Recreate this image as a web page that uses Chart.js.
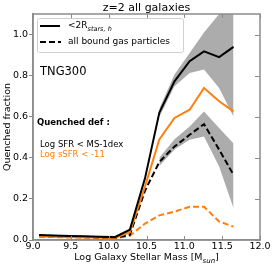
<!DOCTYPE html>
<html>
<head>
<meta charset="utf-8">
<script src="https://cdn.jsdelivr.net/npm/chart.js@4"></script>
<style>
  html, body { margin: 0; padding: 0; background: #fff; }
  #wrap { width: 274px; height: 267px; }
</style>
</head>
<body>
<div id="wrap"><canvas id="chart"></canvas></div>
<script>
// Values
const mass = [9.08, 9.28, 9.48, 9.68, 9.88, 10.08, 10.28, 10.48, 10.67, 10.87, 11.07, 11.26, 11.46, 11.65];
const sfrInner = [0.024, 0.022, 0.020, 0.018, 0.016, 0.014, 0.05, 0.30, 0.62, 0.772, 0.87, 0.918, 0.89, 0.94];
const ssfrInner = [0.018, 0.016, 0.015, 0.013, 0.012, 0.010, 0.038, 0.26, 0.49, 0.594, 0.634, 0.74, 0.675, 0.626];
const sfrAll = [0.02, 0.018, 0.016, 0.014, 0.012, 0.010, 0.025, 0.24, 0.38, 0.455, 0.512, 0.564, 0.44, 0.317];
const ssfrAll = [0.015, 0.014, 0.012, 0.011, 0.010, 0.008, 0.02, 0.08, 0.12, 0.138, 0.162, 0.162, 0.09, 0.065];

// error bands (only the high-mass bins)
const bandMass = [10.67, 10.87, 11.07, 11.26, 11.46, 11.65];
const innerHi = [0.64, 0.805, 0.91, 1.01, 1.10, 1.30];
const innerLo = [0.60, 0.748, 0.813, 0.83, 0.74, 0.60];
const allHi = [0.40, 0.49, 0.553, 0.626, 0.545, 0.47];
const allLo = [0.36, 0.44, 0.488, 0.504, 0.358, 0.155];

const xTicks = [9.0, 9.5, 10.0, 10.5, 11.0, 11.5, 12.0];
const yTicks = [0.0, 0.2, 0.4, 0.6, 0.8, 1.0];

const orange = '#ff7f0e';
const bandGray = 'rgb(172,172,172)';
const frameGray = '#8c8c8c';
const FONT = '"DejaVu Sans", sans-serif';

const pts = (xs, ys) => xs.map((x, i) => ({ x: x, y: ys[i] }));

function lineSet(data, color, dashed) {
    return {
        data: data,
        borderColor: color,
        borderWidth: 2,
        borderDash: dashed ? [6, 3] : [],
        pointRadius: 0,
        fill: false,
        tension: 0,
        order: 1
    };
}

function bandSet(data, filled) {
    return {
        data: data,
        borderWidth: 0,
        borderColor: 'rgba(0,0,0,0)',
        backgroundColor: bandGray,
        pointRadius: 0,
        fill: filled ? '+1' : false,
        tension: 0,
        order: 10
    };
}

// text, frame and inward ticks on top of the chart
const decorations = {
    id: 'decorations',
    afterDraw(chart) {
        const ctx = chart.ctx;
        const a = chart.chartArea;
        const xs = chart.scales.x, ys = chart.scales.y;
        ctx.save();

        // frame
        ctx.strokeStyle = frameGray;
        ctx.lineWidth = 1.5;
        ctx.strokeRect(a.left, a.top, a.right - a.left, a.bottom - a.top);

        // inward ticks: top, bottom, right
        ctx.lineWidth = 1;
        ctx.beginPath();
        xTicks.forEach(v => {
            const px = Math.round(xs.getPixelForValue(v)) + 0.5;
            ctx.moveTo(px, a.top); ctx.lineTo(px, a.top + 4);
            ctx.moveTo(px, a.bottom); ctx.lineTo(px, a.bottom - 4);
        });
        yTicks.forEach(v => {
            const py = Math.round(ys.getPixelForValue(v)) + 0.5;
            ctx.moveTo(a.right, py); ctx.lineTo(a.right - 5, py);
        });
        ctx.stroke();

        ctx.fillStyle = '#000';
        ctx.textBaseline = 'middle';

        // title
        ctx.font = '11px ' + FONT;
        ctx.textAlign = 'center';
        ctx.fillText('z=2 all galaxies', (a.left + a.right) / 2, 8);

        // x axis title with subscript
        ctx.textAlign = 'left';
        const big = '9.5px ' + FONT, small = 'italic 7px ' + FONT;
        ctx.font = big;
        const p1 = 'Log Galaxy Stellar Mass [M', p3 = ']';
        const w1 = ctx.measureText(p1).width, w3 = ctx.measureText(p3).width;
        ctx.font = small;
        const w2 = ctx.measureText('sun').width;
        let x0 = (a.left + a.right) / 2 - (w1 + w2 + w3) / 2;
        ctx.font = big; ctx.fillText(p1, x0, 258);
        ctx.font = small; ctx.fillText('sun', x0 + w1, 261);
        ctx.font = big; ctx.fillText(p3, x0 + w1 + w2, 258);

        // y axis title
        ctx.save();
        ctx.translate(8, (a.top + a.bottom) / 2);
        ctx.rotate(-Math.PI / 2);
        ctx.textAlign = 'center';
        ctx.font = '9.5px ' + FONT;
        ctx.fillText('Quenched fraction', 0, 0);
        ctx.restore();

        // legend box
        ctx.fillStyle = 'rgba(255,255,255,0.85)';
        ctx.strokeStyle = '#d0d0d0';
        ctx.lineWidth = 1;
        ctx.beginPath();
        ctx.roundRect(37.5, 18.5, 146, 34, 2);
        ctx.fill();
        ctx.stroke();

        ctx.strokeStyle = '#000';
        ctx.lineWidth = 2;
        ctx.beginPath();
        ctx.moveTo(40, 26); ctx.lineTo(60, 26);
        ctx.stroke();
        ctx.setLineDash([6, 3]);
        ctx.beginPath();
        ctx.moveTo(40, 42); ctx.lineTo(61, 42);
        ctx.stroke();
        ctx.setLineDash([]);

        ctx.fillStyle = '#000';
        ctx.textAlign = 'left';
        ctx.font = '9px ' + FONT;
        ctx.fillText('<2R', 68, 26);
        const wr = ctx.measureText('<2R').width;
        ctx.font = 'italic 6.5px ' + FONT;
        ctx.fillText('stars, h', 68 + wr, 29);
        ctx.font = '9px ' + FONT;
        ctx.fillText('all bound gas particles', 68, 42);

        // annotations
        ctx.font = '11.5px ' + FONT;
        ctx.fillText('TNG300', 40, 72);
        ctx.font = 'bold 8.5px ' + FONT;
        ctx.fillText('Quenched def :', 37, 123);
        ctx.font = '8.5px ' + FONT;
        ctx.fillText('Log SFR < MS-1dex', 40, 145);
        ctx.fillStyle = orange;
        ctx.fillText('Log sSFR < -11', 40, 155);

        ctx.restore();
    }
};

const ctx = document.getElementById('chart').getContext('2d');
new Chart(ctx, {
    type: 'line',
    data: {
        datasets: [
            bandSet(pts(bandMass, innerHi), true),
            bandSet(pts(bandMass, innerLo), false),
            bandSet(pts(bandMass, allHi), true),
            bandSet(pts(bandMass, allLo), false),
            lineSet(pts(mass, sfrInner), '#000', false),
            lineSet(pts(mass, ssfrInner), orange, false),
            lineSet(pts(mass, sfrAll), '#000', true),
            lineSet(pts(mass, ssfrAll), orange, true)
        ]
    },
    options: {
        responsive: true,
        maintainAspectRatio: false,
        animation: false,
        layout: { padding: { top: 14, right: 14, left: 0, bottom: 0 } },
        plugins: {
            legend: { display: false },
            title: { display: false },
            tooltip: { enabled: false }
        },
        scales: {
            x: {
                type: 'linear',
                min: 9, max: 12,
                afterBuildTicks: s => { s.ticks = xTicks.map(v => ({ value: v })); },
                afterFit: s => { s.height = 27; },
                ticks: {
                    color: '#000',
                    padding: 1,
                    maxRotation: 0,
                    font: { family: FONT, size: 9.5 },
                    callback: v => v.toFixed(1)
                },
                grid: { drawOnChartArea: false, drawTicks: false },
                border: { color: frameGray, width: 1.5 }
            },
            y: {
                min: 0, max: 1.1,
                afterBuildTicks: s => { s.ticks = yTicks.map(v => ({ value: v })); },
                afterFit: s => { s.width = 33; },
                ticks: {
                    color: '#000',
                    padding: 1,
                    font: { family: FONT, size: 9.5 },
                    callback: v => v.toFixed(1)
                },
                grid: { drawOnChartArea: false, tickLength: 4, color: frameGray },
                border: { color: frameGray, width: 1.5 }
            }
        }
    },
    plugins: [decorations]
});
</script>
</body>
</html>
